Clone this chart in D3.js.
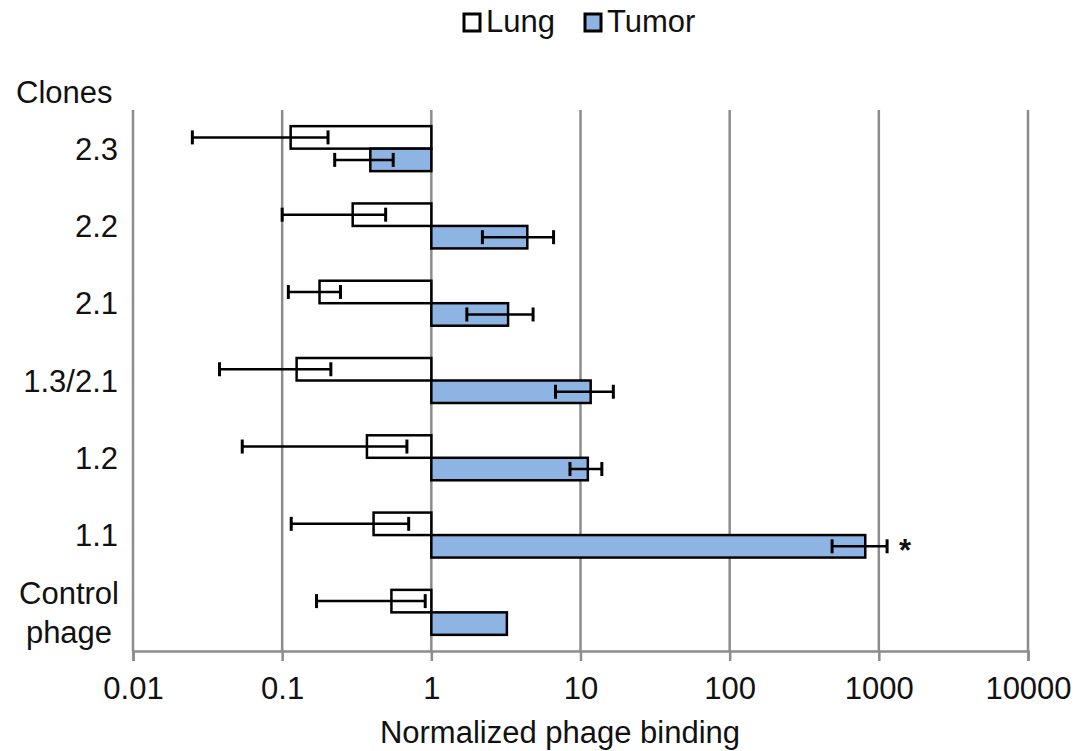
<!DOCTYPE html>
<html>
<head>
<meta charset="utf-8">
<script src="https://cdnjs.cloudflare.com/ajax/libs/d3/7.8.5/d3.min.js"></script>
<style>
  body { margin: 0; background: #fff; }
  text { font-family: "Liberation Sans", Arial, sans-serif; fill: #111; }
</style>
</head>
<body>
<svg id="chart"></svg>
<script>
const width = 1090;
const height = 751;

const categories = ["2.3", "2.2", "2.1", "1.3/2.1", "1.2", "1.1", "Control phage"];
const seriesNames = ["Lung", "Tumor"];
const seriesColors = ["#ffffff", "#8eb4e3"];
const lungValues = [0.114, 0.297, 0.178, 0.125, 0.37, 0.41, 0.54];
const lungErrors = [0.089, 0.197, 0.068, 0.087, 0.316, 0.295, 0.37];
const tumorValues = [0.39, 4.4, 3.27, 11.7, 11.2, 811, 3.21];
const tumorErrors = [0.165, 2.2, 1.54, 4.9, 2.7, 325, 0];
const xTicks = [0.01, 0.1, 1, 10, 100, 1000, 10000];
const significant = ["1.1"];

const fontSize = 31;
const plotLeft = 133;
const plotRight = 1028;
const plotTop = 110;
const plotBottom = 651;

let svg = d3.select("#chart").attr("width", width).attr("height", height);

let x = d3.scaleLog().domain([0.01, 10000]).range([plotLeft, plotRight]);
let y = d3
  .scaleBand()
  .domain(categories)
  .range([plotTop, plotBottom])
  .paddingInner(0.418)
  .paddingOuter(0.209);
let ySub = d3.scaleBand().domain(seriesNames).range([0, y.bandwidth()]);

let rows = [];
categories.forEach((c, i) => {
  rows.push({ cat: c, series: "Lung", value: lungValues[i], err: lungErrors[i] });
  rows.push({ cat: c, series: "Tumor", value: tumorValues[i], err: tumorErrors[i] });
});

// gridlines
svg
  .append("g")
  .selectAll("line")
  .data(xTicks)
  .enter()
  .append("line")
  .attr("x1", d => x(d))
  .attr("x2", d => x(d))
  .attr("y1", plotTop)
  .attr("y2", plotBottom)
  .attr("stroke", "#8c8c8c")
  .attr("stroke-width", 2.5);

// x axis
let xAxis = svg
  .append("g")
  .attr("transform", `translate(0,${plotBottom})`)
  .call(
    d3
      .axisBottom(x)
      .tickValues(xTicks)
      .tickFormat(d => String(d))
      .tickSize(10)
      .tickPadding(16)
  );
xAxis.select(".domain").attr("stroke", "#8c8c8c").attr("stroke-width", 2.5);
xAxis.selectAll(".tick line").attr("stroke", "#8c8c8c").attr("stroke-width", 2.5);
xAxis
  .selectAll(".tick text")
  .attr("font-size", fontSize)
  .attr("font-family", "Liberation Sans, Arial, sans-serif")
  .attr("fill", "#111");

// bars
let bars = svg.append("g");
bars
  .selectAll("rect")
  .data(rows)
  .enter()
  .append("rect")
  .attr("x", d => Math.min(x(1), x(d.value)))
  .attr("width", d => Math.abs(x(d.value) - x(1)))
  .attr("y", d => y(d.cat) + ySub(d.series))
  .attr("height", ySub.bandwidth())
  .attr("fill", d => seriesColors[seriesNames.indexOf(d.series)])
  .attr("stroke", "#000")
  .attr("stroke-width", 2.5);

// error bars
let errRows = rows.filter(d => d.err > 0);
let errG = svg
  .append("g")
  .selectAll("g")
  .data(errRows)
  .enter()
  .append("g")
  .attr("transform", d => `translate(0,${y(d.cat) + ySub(d.series) + ySub.bandwidth() / 2})`);
errG
  .append("line")
  .attr("x1", d => x(d.value - d.err))
  .attr("x2", d => x(d.value + d.err))
  .attr("stroke", "#000")
  .attr("stroke-width", 2.5);
errG
  .append("line")
  .attr("x1", d => x(d.value - d.err))
  .attr("x2", d => x(d.value - d.err))
  .attr("y1", -7)
  .attr("y2", 7)
  .attr("stroke", "#000")
  .attr("stroke-width", 3);
errG
  .append("line")
  .attr("x1", d => x(d.value + d.err))
  .attr("x2", d => x(d.value + d.err))
  .attr("y1", -7)
  .attr("y2", 7)
  .attr("stroke", "#000")
  .attr("stroke-width", 3);

// significance star
svg
  .append("g")
  .selectAll("text")
  .data(rows.filter(d => d.series === "Tumor" && significant.includes(d.cat)))
  .enter()
  .append("text")
  .attr("x", d => x(d.value + d.err) + 12)
  .attr("y", d => y(d.cat) + ySub("Tumor") + ySub.bandwidth() / 2 + 15)
  .attr("font-size", 31)
  .attr("font-weight", "bold")
  .text("*");

// category labels
let catLabels = svg
  .append("g")
  .selectAll("text")
  .data(categories)
  .enter()
  .append("text")
  .attr("font-size", fontSize)
  .attr("text-anchor", "end")
  .attr("x", 118)
  .attr("y", d => y(d) + y.bandwidth() / 2 + 11);
catLabels.each(function(d) {
  let parts = d.split(" ");
  let t = d3.select(this);
  if (parts.length === 1) {
    t.text(d);
  } else {
    t.attr("text-anchor", "middle").attr("x", 69);
    parts.forEach((p, i) => {
      t.append("tspan")
        .attr("x", 69)
        .attr("dy", i === 0 ? -19.5 : 39)
        .text(p);
    });
  }
});

svg
  .append("text")
  .attr("x", 16)
  .attr("y", 103)
  .attr("font-size", fontSize)
  .text("Clones");

// axis title
svg
  .append("text")
  .attr("x", 560)
  .attr("y", 743)
  .attr("text-anchor", "middle")
  .attr("font-size", fontSize)
  .text("Normalized phage binding");

// legend
let legendX = [462, 583];
let legend = svg
  .append("g")
  .selectAll("g")
  .data(seriesNames)
  .enter()
  .append("g")
  .attr("transform", (d, i) => `translate(${legendX[i]},0)`);
legend
  .append("rect")
  .attr("x", 2)
  .attr("y", 14)
  .attr("width", 16)
  .attr("height", 17)
  .attr("fill", (d, i) => seriesColors[i])
  .attr("stroke", "#000")
  .attr("stroke-width", 3);
legend
  .append("text")
  .attr("x", 24)
  .attr("y", 32)
  .attr("font-size", fontSize)
  .text(d => d);
</script>
</body>
</html>
